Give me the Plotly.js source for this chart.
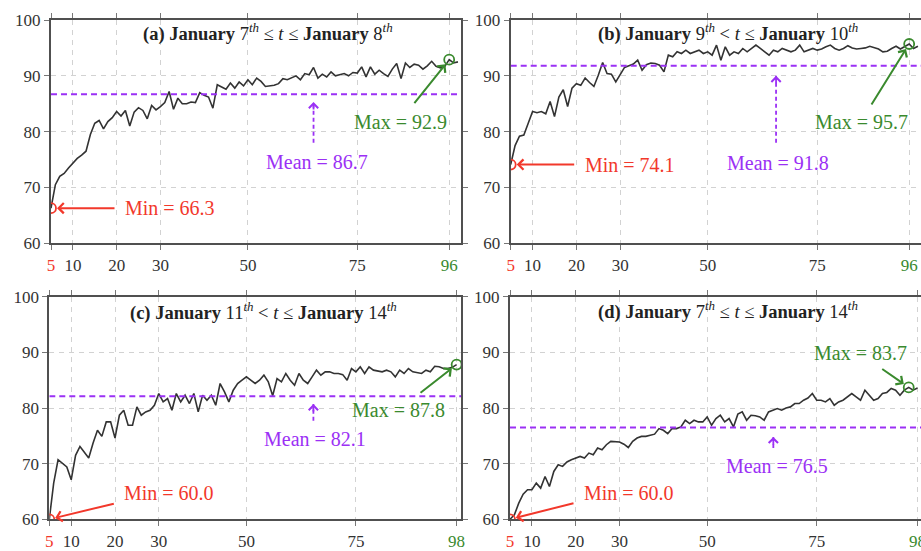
<!DOCTYPE html>
<html><head><meta charset="utf-8">
<script src="https://cdn.plot.ly/plotly-3.0.1.min.js"></script>
<style>html,body{margin:0;padding:0;background:#fff;overflow:hidden}#chart{width:921px;height:551px}</style>
</head><body><div id="chart"></div>
<script>
const steps = [5,6,7,8,9,10,11,12,13,14,15,16,17,18,19,20,21,22,23,24,25,26,27,28,29,30,31,32,33,34,35,36,37,38,39,40,41,42,43,44,45,46,47,48,49,50,51,52,53,54,55,56,57,58,59,60,61,62,63,64,65,66,67,68,69,70,71,72,73,74,75,76,77,78,79,80,81,82,83,84,85,86,87,88,89,90,91,92,93,94,95,96,97,98];

const accA = [66.3,70.5,72.0,72.5,73.5,74.3,75.2,75.8,76.5,79.5,81.5,82.0,80.5,81.8,82.5,83.6,82.8,83.8,81.0,83.5,84.3,83.8,82.3,84.7,83.9,84.5,85.2,87.2,84.0,86.0,85.0,85.0,85.3,85.2,87.0,86.5,86.2,84.2,88.4,88.0,87.6,88.7,87.8,88.9,88.2,89.3,88.4,89.6,89.0,88.1,88.2,88.3,88.6,89.5,89.3,89.6,90.0,89.3,90.4,90.2,91.5,89.6,90.3,89.8,90.7,90.0,90.2,90.4,90.0,90.6,90.5,91.6,89.8,91.6,90.3,91.0,90.4,89.9,91.2,92.2,89.5,92.3,91.5,92.1,91.9,91.2,91.8,92.6,91.7,91.4,91.7,92.9,92.3,92.5];

const accB = [74.1,77.5,79.2,79.4,81.5,83.6,83.4,83.6,83.2,85.4,82.7,86.2,87.5,84.5,87.8,88.6,88.3,89.6,88.8,88.1,90.1,92.4,90.4,90.3,88.9,90.2,91.5,91.8,92.1,92.8,91.0,92.0,92.3,92.2,91.9,90.7,93.7,93.4,94.3,94.0,94.6,94.0,94.3,94.6,94.0,94.3,93.7,95.5,92.8,95.2,93.7,94.3,94.0,94.9,94.3,94.9,95.5,94.9,94.3,93.7,94.6,94.3,94.9,94.6,94.3,94.6,95.5,94.3,94.6,94.9,94.6,94.8,95.2,95.5,94.9,94.6,94.9,95.4,95.0,94.8,94.9,95.0,95.3,95.1,94.8,94.3,94.4,94.9,95.3,94.8,95.2,95.7,94.9,95.3];

const accC = [60.0,66.5,70.7,70.1,69.4,67.1,71.5,73.1,72.0,71.0,73.7,76.0,74.9,77.5,77.5,74.6,78.7,79.6,76.9,76.9,80.2,78.7,79.3,79.6,80.5,82.6,81.1,81.7,79.6,82.6,81.1,82.3,80.8,82.6,79.3,82.3,81.4,82.3,80.5,84.4,82.9,81.1,83.2,84.4,85.0,85.6,85.0,84.4,85.0,85.9,84.7,82.2,85.3,84.7,86.2,85.0,84.1,86.2,85.0,84.4,85.6,86.8,85.9,86.5,86.5,86.2,86.2,86.0,85.0,87.1,86.5,87.4,86.2,87.4,86.8,86.6,86.5,86.8,86.5,85.6,86.8,86.2,87.1,86.5,86.3,86.2,86.8,86.5,87.5,87.4,87.1,87.1,87.3,87.8];

const accD = [60.0,60.8,62.9,64.5,65.3,65.3,66.5,65.6,67.7,65.9,68.6,69.8,69.5,70.3,70.7,71.0,71.3,71.0,71.9,71.6,72.8,72.5,73.4,74.0,74.0,73.9,73.5,72.9,74.0,74.6,74.9,74.9,75.1,75.3,76.3,76.0,75.4,76.3,76.3,76.6,77.8,77.2,77.8,77.5,77.5,78.4,76.9,78.1,78.7,77.5,78.1,76.6,78.9,79.3,77.8,78.7,78.6,78.4,77.8,79.3,79.6,79.9,79.6,80.0,80.2,80.8,80.8,81.4,81.8,82.6,81.4,81.4,81.1,81.7,80.5,81.1,81.4,82.0,82.6,82.0,81.4,83.2,82.3,81.4,81.7,82.6,82.8,83.5,83.2,82.3,83.2,83.7,83.2,83.6];

const panelTitles = [
  '<b>(a) January</b> 7<sup><i>th</i></sup> \u2264 <i>t</i> \u2264 <b>January</b> 8<sup><i>th</i></sup>',
  '<b>(b) January</b> 9<sup><i>th</i></sup> &lt; <i>t</i> \u2264 <b>January</b> 10<sup><i>th</i></sup>',
  '<b>(c) January</b> 11<sup><i>th</i></sup> &lt; <i>t</i> \u2264 <b>January</b> 14<sup><i>th</i></sup>',
  '<b>(d) January</b> 7<sup><i>th</i></sup> \u2264 <i>t</i> \u2264 <b>January</b> 14<sup><i>th</i></sup>'
];
const minVals = [66.3, 74.1, 60.0, 60.0];
const minSteps = [5, 5, 5, 5];
const maxVals = [92.9, 95.7, 87.8, 83.7];
const maxSteps = [96, 96, 98, 96];
const meanVals = [86.7, 91.8, 82.1, 76.5];
const xTickVals = [[5,10,20,30,50,75,96],[5,10,20,30,50,75,96],[5,10,20,30,50,75,98],[5,10,20,30,50,75,98]];
const yTickVals = [60,70,80,90,100];

const series = [accA, accB, accC, accD];
const RED = '#f2382b', GREEN = '#3a8a2e', PURPLE = '#9b30f5', INK = '#333333';
const FONT = 'Liberation Serif, Times New Roman, serif';

const W = 921, H = 551;
const xDom = [[51, 461], [510.7, 921], [49.3, 461], [510, 921]];
const yDom = [[20, 243.3], [20, 243.3], [296.7, 519.3], [296.7, 519.3]];
const xRng = [[5, 98.7], [5, 98.7], [5, 99.0], [5, 98.8]];

// layout-only positions per panel (data units)
const minTextPos = [[21.5, 66.3], [21.6, 74.1], [21.5, 64.7], [21.4, 64.7]];
const minArrowOff = [[65, 0], [65, 0], [66, -16], [65, -16.5]];
const maxTextPos = [[84.8, 81.7], [85.0, 81.7], [84.8, 79.6], [84.9, 89.9]];
const maxArrowOff = [[-36, 45], [-38.6, 62], [-37.6, 29.4], [-28, -19.4]];
const meanTextPos = [[65.8, 74.6], [66.0, 74.4], [65.7, 74.4], [65.9, 69.6]];
const meanArrow = [[65.0, 78.0, 85.3], [65.6, 78.0, 90.0], [65.3, 77.7, 80.7], [65.1, 72.8, 74.8]];
const titlePx = [[268, 33], [728, 33], [263, 311.5], [728, 310]];

const data = [];
const annotations = [];
const shapes = [];
const layout = {
  width: W, height: H,
  margin: {l: 0, r: 0, t: 0, b: 0},
  paper_bgcolor: '#fff', plot_bgcolor: '#fff',
  showlegend: false,
  font: {family: FONT, color: INK}
};

for (let i = 0; i < 4; i++) {
  const sfx = i === 0 ? '' : String(i + 1);
  const xa = 'x' + sfx, ya = 'y' + sfx;
  data.push({x: steps, y: series[i], xaxis: xa, yaxis: ya, type: 'scatter', mode: 'lines',
    line: {color: INK, width: 1.6}, hoverinfo: 'skip'});
  data.push({x: [minSteps[i]], y: [minVals[i]], xaxis: xa, yaxis: ya, type: 'scatter', mode: 'markers',
    marker: {symbol: 'circle-open', size: 10, color: RED, line: {width: 1.8, color: RED}}});
  data.push({x: [maxSteps[i]], y: [maxVals[i]], xaxis: xa, yaxis: ya, type: 'scatter', mode: 'markers',
    marker: {symbol: 'circle-open', size: 10, color: GREEN, line: {width: 1.8, color: GREEN}}});

  const tt = xTickVals[i].map((v, k) => {
    if (k === 0) return '<span style="color:' + RED + '">' + v + '</span>';
    if (k === xTickVals[i].length - 1) return '<span style="color:' + GREEN + '">' + v + '</span>';
    return String(v);
  });
  const common = {
    showline: true, linecolor: '#505050', linewidth: 2, mirror: 'ticks',
    ticks: 'outside', ticklen: 5, tickwidth: 1, tickcolor: '#777',
    showgrid: true, gridcolor: '#d2d2d2', gridwidth: 1, griddash: '5px,5px',
    zeroline: false, fixedrange: true, ticklabeloverflow: 'allow',
    tickfont: {family: FONT, size: 17, color: '#333'}
  };
  layout['xaxis' + sfx] = Object.assign({}, common, {
    domain: [xDom[i][0] / W, Math.min(1, xDom[i][1] / W)], range: xRng[i], anchor: ya,
    tickmode: 'array', tickvals: xTickVals[i], ticktext: tt
  });
  layout['yaxis' + sfx] = Object.assign({}, common, {
    domain: [1 - yDom[i][1] / H, 1 - yDom[i][0] / H], range: [60, 100], anchor: xa,
    tickmode: 'array', tickvals: yTickVals
  });

  // title
  annotations.push({xref: 'paper', yref: 'paper', x: titlePx[i][0] / W, y: 1 - titlePx[i][1] / H,
    xanchor: 'center', yanchor: 'middle', showarrow: false, text: panelTitles[i],
    font: {family: FONT, size: 18.5, color: '#222'}});

  // min
  annotations.push({xref: xa, yref: ya, x: minSteps[i], y: minVals[i], ax: minArrowOff[i][0], ay: minArrowOff[i][1],
    text: '', font: {size: 1}, showarrow: true, arrowhead: 4, arrowsize: 1, arrowwidth: 2, arrowcolor: RED, standoff: 6});
  annotations.push({xref: xa, yref: ya, x: minTextPos[i][0], y: minTextPos[i][1], xanchor: 'left', yanchor: 'middle',
    showarrow: false, text: 'Min = ' + minVals[i].toFixed(1), font: {family: FONT, size: 20, color: RED}});

  // max
  annotations.push({xref: xa, yref: ya, x: maxSteps[i], y: maxVals[i], ax: maxArrowOff[i][0], ay: maxArrowOff[i][1],
    text: '', font: {size: 1}, showarrow: true, arrowhead: 4, arrowsize: 1, arrowwidth: 2, arrowcolor: GREEN, standoff: 6});
  annotations.push({xref: xa, yref: ya, x: maxTextPos[i][0], y: maxTextPos[i][1], xanchor: 'center', yanchor: 'middle',
    showarrow: false, text: 'Max = ' + maxVals[i].toFixed(1), font: {family: FONT, size: 20, color: GREEN}});

  // mean
  shapes.push({type: 'line', xref: xa, yref: ya, x0: xRng[i][0], x1: xRng[i][1], y0: meanVals[i], y1: meanVals[i],
    line: {color: PURPLE, width: 2, dash: '6px,4px'}});
  shapes.push({type: 'line', xref: xa, yref: ya, x0: meanArrow[i][0], x1: meanArrow[i][0], y0: meanArrow[i][1], y1: meanArrow[i][2],
    line: {color: PURPLE, width: 1.8, dash: '4px,3px'}});
  annotations.push({xref: xa, yref: ya, x: meanArrow[i][0], y: meanArrow[i][2], ax: 0, ay: 9,
    text: '', font: {size: 1}, showarrow: true, arrowhead: 4, arrowsize: 1, arrowwidth: 1.8, arrowcolor: PURPLE, standoff: 0});
  annotations.push({xref: xa, yref: ya, x: meanTextPos[i][0], y: meanTextPos[i][1], xanchor: 'center', yanchor: 'middle',
    showarrow: false, text: 'Mean = ' + meanVals[i].toFixed(1), font: {family: FONT, size: 20, color: PURPLE}});
}
layout.annotations = annotations;
layout.shapes = shapes;

Plotly.newPlot('chart', data, layout, {displayModeBar: false, staticPlot: true});
</script>
</body></html>
